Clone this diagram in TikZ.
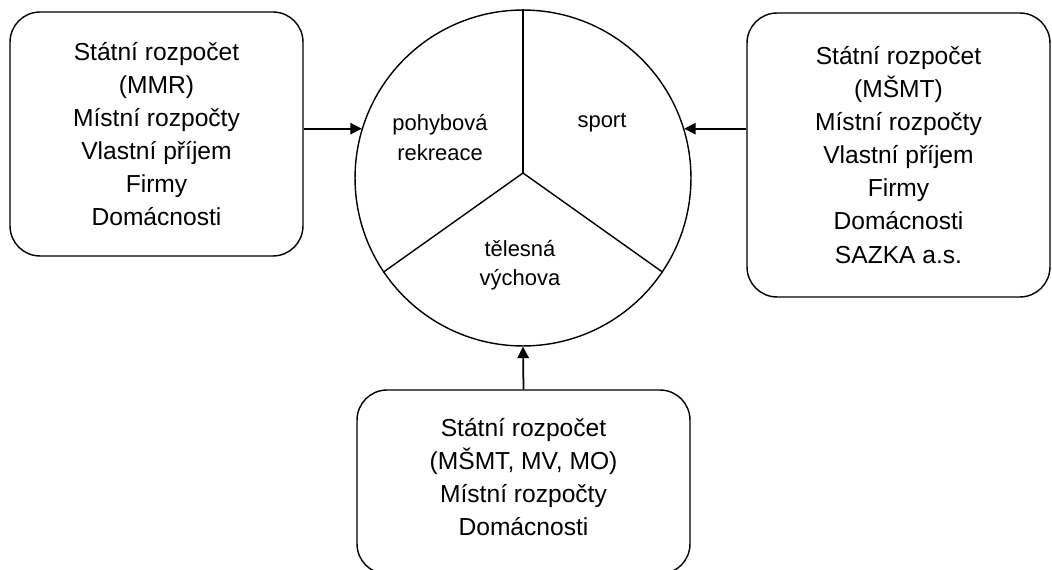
\documentclass[tikz,border=0pt]{standalone}
\usepackage{fontspec}
\setmainfont{Liberation Sans}
\usetikzlibrary{arrows.meta}

\begin{document}
\begin{tikzpicture}[x=0.02cm, y=-0.02cm,
    zdroj/.style={draw, line width=0.8pt, rounded corners=0.6cm, align=center,
      inner sep=0pt, font=\fontsize{14pt}{18.8pt}\selectfont},
    oblast/.style={align=center, font=\fontsize{12.5pt}{16.8pt}\selectfont},
    sipka/.style={-{Triangle[length=6.5pt,width=6.5pt]}, line width=1pt}]
    \useasboundingbox (0,0) rectangle (1052,570);
    \clip (0,0) rectangle (1052,570);
    % Definice bodů
    \coordinate (S) at (523,173);

    % Kruh a jeho části
    \node[draw, circle, line width=0.8pt, minimum size=6.72cm, inner sep=0pt] (kruh) at (523,178) {};
    \draw[line width=0.8pt] (S) -- (kruh.90);
    \draw[line width=0.8pt] (S) -- (kruh.-146);
    \draw[line width=0.8pt] (S) -- (kruh.-34);
    \node[oblast] (rekreace) at (440,137.5) {pohybová\\rekreace};
    \node[oblast] (sport) at (602,123) {sport};
    \node[oblast] (vychova) at (520,265) {tělesná\\výchova};

    % Zdroje financování
    \node[zdroj, minimum width=5.86cm, minimum height=4.88cm] (MMR) at (156.5,134)
      {Státní rozpočet\\(MMR)\\Místní rozpočty\\Vlastní příjem\\Firmy\\Domácnosti};
    \node[zdroj, minimum width=6.06cm, minimum height=5.68cm] (MSMT) at (898.5,155)
      {Státní rozpočet\\(MŠMT)\\Místní rozpočty\\Vlastní příjem\\Firmy\\Domácnosti\\SAZKA a.s.};
    \node[zdroj, minimum width=6.66cm, minimum height=3.68cm, text depth=0.2cm] (MO) at (523.5,482)
      {Státní rozpočet\\(MŠMT, MV, MO)\\Místní rozpočty\\Domácnosti};

    % Šipky
    \draw[sipka] (MMR.east |- kruh.163) -- (kruh.163);
    \draw[sipka] (MSMT.west |- kruh.17) -- (kruh.17);
    \draw[sipka] (MO.north) -- (kruh.south);
\end{tikzpicture}
\end{document}
